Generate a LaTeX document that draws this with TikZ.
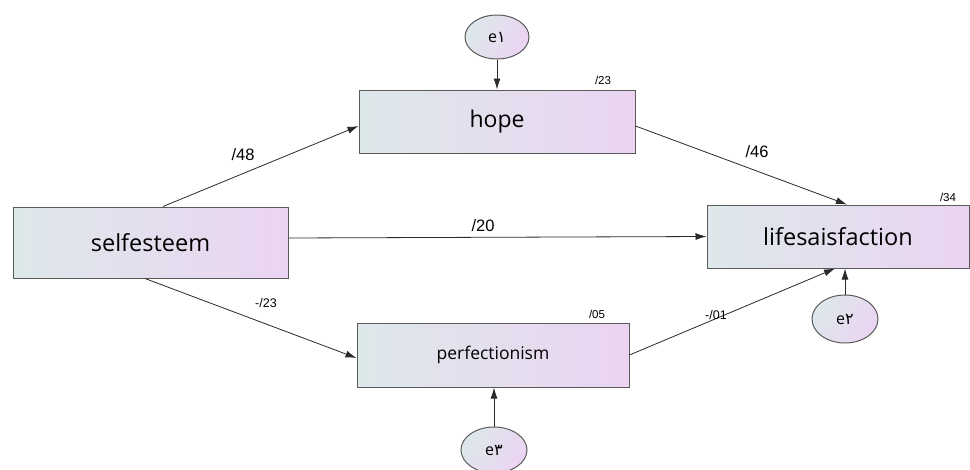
\documentclass[tikz,border=0pt]{standalone}
\usepackage{fontspec}
\setmainfont{Open Sans}
\newfontfamily\numfont{Liberation Sans}
\newfontfamily\arabicfont{DejaVu Sans}
\usetikzlibrary{arrows.meta,shapes.geometric}
\definecolor{gleft}{HTML}{DDE8EA}
\definecolor{gright}{HTML}{EBD4F2}
\definecolor{edgec}{HTML}{5A5A5A}
\definecolor{linec}{HTML}{2A2A2A}
\tikzset{
  varbox/.style={draw=edgec, line width=1pt, rectangle, left color=gleft, right color=gright, inner sep=0pt},
  errnode/.style={draw=edgec, line width=1pt, ellipse, shading=axis, left color=gleft, right color=gright, shading angle=60, inner sep=0pt, font=\fontsize{16}{18}\selectfont},
  conn/.style={draw=linec, line width=0.8pt, -{Latex[length=11pt,width=7pt]}},
  coef/.style={font=\numfont\fontsize{16.5}{18}\selectfont, inner sep=0pt},
  rsq/.style={font=\numfont\fontsize{11.5}{13}\selectfont, inner sep=0pt},
}
\begin{document}
\begin{tikzpicture}[x=1pt,y=-1pt]
\useasboundingbox (0,0) rectangle (970,469);
\node[varbox, minimum width=276pt, minimum height=63pt, font=\fontsize{23}{26}\selectfont] (hope) at (497,121.5) {hope};
\node[varbox, minimum width=275pt, minimum height=71pt, font=\fontsize{23.5}{26}\selectfont] (self) at (150.5,242.5) {selfesteem};
\node[varbox, minimum width=262pt, minimum height=63pt, font=\fontsize{23.5}{26}\selectfont] (life) at (838,236.5) {lifesaisfaction};
\node[varbox, minimum width=272pt, minimum height=64pt, font=\fontsize{17.5}{20}\selectfont] (perf) at (493,355) {perfectionism};
\node[errnode, minimum width=64pt, minimum height=44pt] (e1) at (497,37) {e{\arabicfont ۱}};
\node[errnode, minimum width=66pt, minimum height=48pt] (e2) at (845,319) {e{\arabicfont ۲}};
\node[errnode, minimum width=66pt, minimum height=46pt] (e3) at (494,450) {e{\arabicfont ۳}};
\draw[conn] (e1.south) -- (e1.south |- hope.north);
\draw[conn] (e2.north) -- (e2.north |- life.south);
\draw[conn] (e3.north) -- (e3.north |- perf.south);
\draw[conn] ([xshift=12.5pt]self.north) -- ([yshift=-4.5pt]hope.west);
\draw[conn] ([yshift=-4.5pt]hope.east) -- ([xshift=9pt]life.north);
\draw[conn] ([yshift=4.5pt]self.east) -- (life.west);
\draw[conn] ([xshift=-5.5pt]self.south) -- ([yshift=-3pt]perf.west);
\draw[conn] (perf.east) -- ([xshift=-3pt]life.south);
\node[coef] (c48) at (243,155) {/48};
\node[coef] (c46) at (757,152) {/46};
\node[coef] (c20) at (483,226) {/20};
\node[rsq, font=\numfont\fontsize{12.5}{14}\selectfont] (c23n) at (266,303) {-/23};
\node[rsq, font=\numfont\fontsize{12.5}{14}\selectfont] (c01) at (716,315) {-/01};
\node[rsq] (r23) at (603,80) {/23};
\node[rsq] (r05) at (597,314) {/05};
\node[rsq] (r34) at (948,197) {/34};
\end{tikzpicture}
\end{document}
